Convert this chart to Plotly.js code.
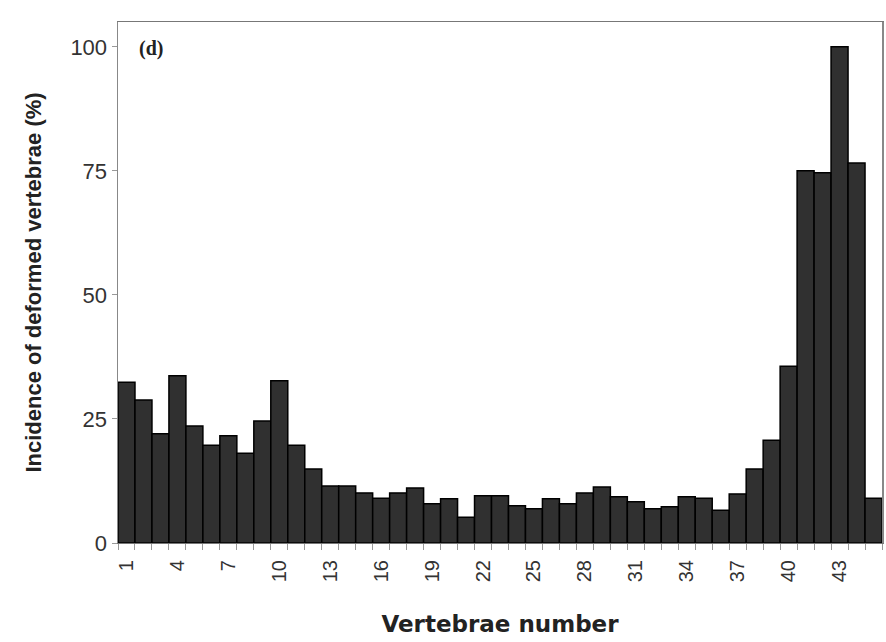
<!DOCTYPE html>
<html>
<head>
<meta charset="utf-8">
<script src="https://cdn.plot.ly/plotly-3.0.1.min.js"></script>
<style>html,body{margin:0;padding:0;background:#fff;}#chart{width:886px;height:642px;}</style>
</head>
<body>
<div id="chart"></div>
<script>
const vertebrae = Array.from({length: 45}, (_, i) => i + 1);
const incidence = [32.4, 28.8, 22.0, 33.7, 23.6, 19.7, 21.6, 18.1, 24.6, 32.7,
  19.7, 14.9, 11.5, 11.5, 10.1, 9.0, 10.1, 11.1, 7.9, 8.9,
  5.2, 9.5, 9.5, 7.5, 6.9, 8.9, 7.9, 10.1, 11.3, 9.3,
  8.3, 6.9, 7.3, 9.3, 9.0, 6.6, 9.9, 14.9, 20.7, 35.6,
  75.0, 74.6, 100.0, 76.6, 9.0];
const yTicks = [0, 25, 50, 75, 100];
const xTicks = [1, 4, 7, 10, 13, 16, 19, 22, 25, 28, 31, 34, 37, 40, 43];
const boundaries = Array.from({length: 46}, (_, i) => i + 0.5);

const trace = {
  type: 'bar',
  x: vertebrae,
  y: incidence,
  marker: {color: '#303030', line: {color: '#000', width: 1.5}},
  hoverinfo: 'x+y'
};

const layout = {
  width: 886, height: 642,
  margin: {l: 118, r: 4, t: 22, b: 99},
  paper_bgcolor: '#fff', plot_bgcolor: '#fff',
  bargap: 0,
  showlegend: false,
  font: {family: 'Liberation Sans, Arial, sans-serif', color: '#333'},
  xaxis: {
    range: [0.5, 45.5],
    tickmode: 'array', tickvals: xTicks, ticktext: xTicks.map(String),
    tickangle: -90,
    ticks: '', ticklabelstandoff: 8,
    minor: {tickmode: 'array', tickvals: boundaries, ticks: 'outside', ticklen: 6, tickcolor: '#999'},
    tickfont: {size: 20, color: '#333'},
    showline: true, linecolor: '#777', linewidth: 1, mirror: true,
    showgrid: false, zeroline: false,
    title: {text: 'Vertebrae number', font: {family: 'DejaVu Sans, sans-serif', weight: 'bold', size: 23, color: '#222'}, standoff: 34}
  },
  yaxis: {
    range: [0, 105],
    tickmode: 'array', tickvals: yTicks, ticktext: yTicks.map(String),
    ticks: 'outside', ticklen: 5, tickcolor: '#999',
    tickfont: {size: 22, color: '#333'},
    showline: true, linecolor: '#888', linewidth: 1.5, mirror: true,
    showgrid: false, zeroline: false,
    title: {text: 'Incidence of deformed vertebrae (%)', font: {weight: 'bold', size: 22, color: '#222'}, standoff: 22}
  },
  annotations: [{
    text: '<b>(d)</b>', xref: 'paper', yref: 'paper', x: 0.025, y: 0.975,
    xanchor: 'left', yanchor: 'top', showarrow: false,
    font: {family: 'Liberation Serif, Times New Roman, serif', size: 20, color: '#222'}
  }]
};

Plotly.newPlot('chart', [trace], layout, {displayModeBar: false, staticPlot: true});
</script>
</body>
</html>
